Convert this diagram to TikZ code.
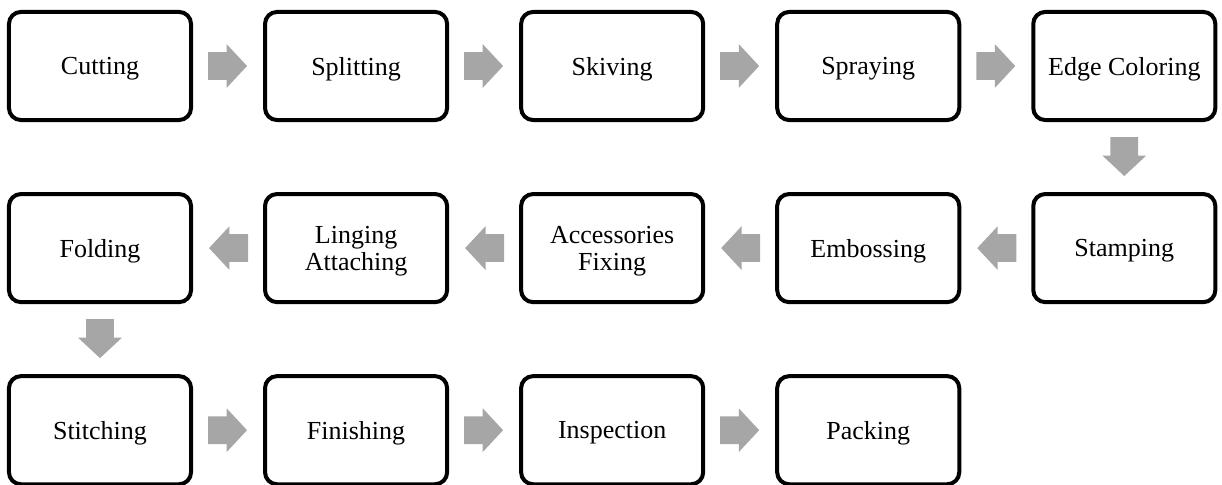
\documentclass[tikz,border=0pt]{standalone}
\usepackage{fontspec}
\setmainfont{Liberation Serif}
\usetikzlibrary{shapes.arrows}
\definecolor{flowgray}{HTML}{A6A6A6}
\begin{document}
\begin{tikzpicture}[
 box/.style={rectangle,draw,line width=2pt,rounded corners=6pt,minimum width=3.2cm,
             minimum height=1.9cm,inner xsep=2pt,text depth=0pt,align=center,
             font=\fontsize{13pt}{13.5pt}\selectfont},
 fat/.style={single arrow,fill=flowgray,inner xsep=0pt,inner ysep=6.75pt,
             minimum height=19.5pt,minimum width=21.5pt,single arrow head extend=4pt,
             single arrow head indent=0pt,single arrow tip angle=94},
 flow/.style={to path={-- (\tikztotarget) node[pos=0.4,sloped,allow upside down,fat] {}}}]
\useasboundingbox (-50pt,33pt) rectangle (561pt,-209.5pt);
% first row
\node[box] (cut) at (0,0) {Cutting};
\node[box] (split) at (4.5,0) {Splitting};
\node[box] (skive) at (9,0) {Skiving};
\node[box] (spray) at (13.5,0) {Spraying};
\node[box] (edge) at (18,0) {Edge Coloring};
% second row, right to left
\node[box] (stamp) at (18,-3.2) {Stamping};
\node[box] (emboss) at (13.5,-3.2) {Embossing};
\node[box] (access) at (9,-3.2) {Accessories\\Fixing};
\node[box] (lining) at (4.5,-3.2) {Linging\\Attaching};
\node[box] (fold) at (0,-3.2) {Folding};
% third row
\node[box] (stitch) at (0,-6.4) {Stitching};
\node[box] (finish) at (4.5,-6.4) {Finishing};
\node[box] (inspect) at (9,-6.4) {Inspection};
\node[box] (pack) at (13.5,-6.4) {Packing};
\path (cut) to[flow] (split); \path (split) to[flow] (skive);
\path (skive) to[flow] (spray); \path (spray) to[flow] (edge);
\path (edge) to[flow] (stamp);
\path (stamp) to[flow] (emboss); \path (emboss) to[flow] (access);
\path (access) to[flow] (lining); \path (lining) to[flow] (fold);
\path (fold) to[flow] (stitch);
\path (stitch) to[flow] (finish); \path (finish) to[flow] (inspect);
\path (inspect) to[flow] (pack);
\end{tikzpicture}
\end{document}
